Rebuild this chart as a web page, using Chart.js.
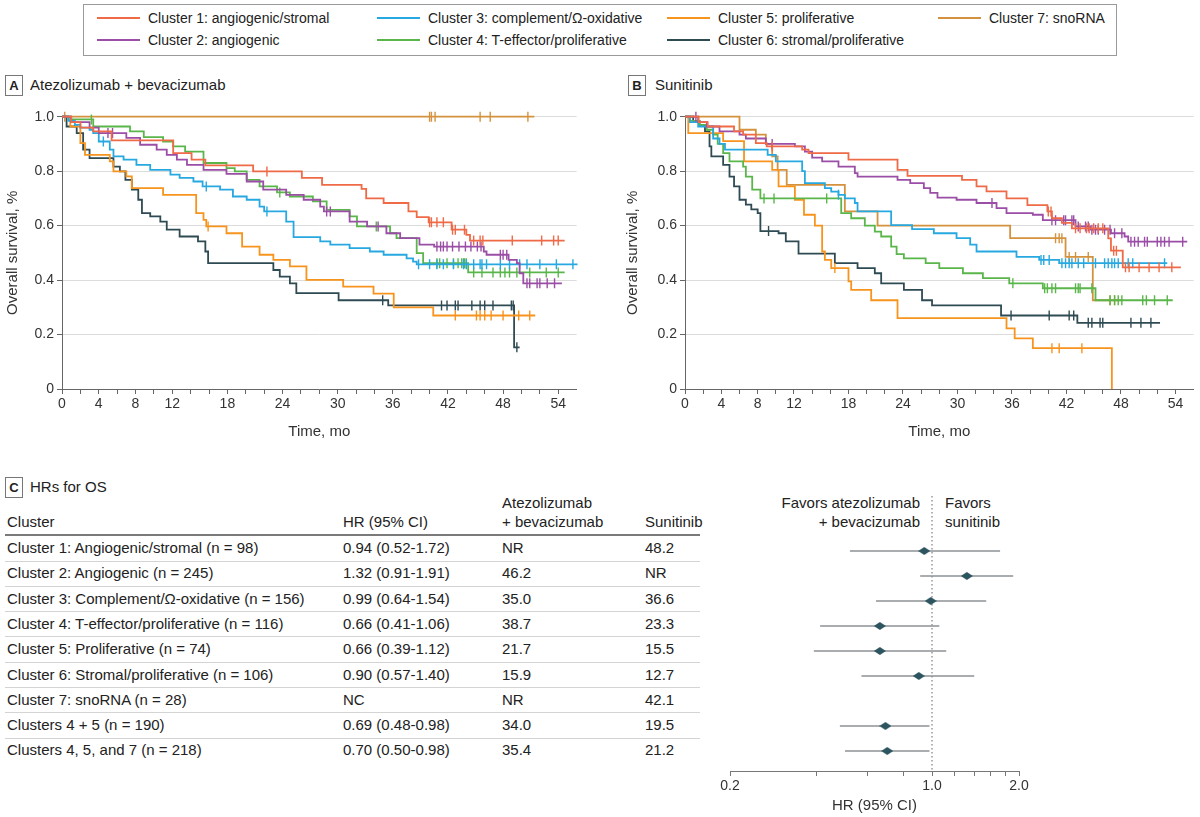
<!DOCTYPE html>
<html>
<head>
<meta charset="utf-8">
<script src="https://cdn.jsdelivr.net/npm/chart.js@4.4.1/dist/chart.umd.min.js"></script>
<style>
  body { margin: 0; width: 1200px; height: 817px; position: relative; background: #fff; overflow: hidden;
         font-family: "Liberation Sans", Arial, sans-serif; color: #222; }
  .legend { position: absolute; left: 83px; top: 4px; width: 1032px; height: 50px; border: 1px solid #9a9a9a; }
  .leg { position: absolute; font-size: 14px; line-height: 16px; white-space: nowrap; }
  .leg i { display: inline-block; width: 43px; height: 2px; vertical-align: middle; margin-right: 8px; position: relative; top: -1px; }
  .tag { position: absolute; width: 16px; height: 19px; border: 1px solid #777; font-size: 13px; font-weight: bold;
         text-align: center; line-height: 19px; }
  .ttl, .cell { position: absolute; font-size: 15px; line-height: 18px; white-space: nowrap; }
  .box { position: absolute; }
  .rule { position: absolute; left: 5px; width: 695px; height: 1px; background: #d4d4d4; }
</style>
</head>
<body>
<div class="legend" id="legend"></div>

<div class="tag" style="left:5px;top:75px">A</div>
<div class="ttl" style="left:30px;top:76px">Atezolizumab + bevacizumab</div>
<div class="tag" style="left:628px;top:75px">B</div>
<div class="ttl" style="left:655px;top:76px">Sunitinib</div>

<div class="box" style="left:0;top:95px;width:600px;height:354px"><canvas id="chartA" width="600" height="354"></canvas></div>
<div class="box" style="left:620px;top:95px;width:580px;height:354px"><canvas id="chartB" width="580" height="354"></canvas></div>

<div class="tag" style="left:5px;top:477px">C</div>
<div class="ttl" style="left:30px;top:478px">HRs for OS</div>
<div id="table"></div>

<div class="ttl" style="left:700px;top:494px;width:220px;text-align:right">Favors atezolizumab</div>
<div class="ttl" style="left:700px;top:513px;width:220px;text-align:right">+ bevacizumab</div>
<div class="ttl" style="left:945px;top:494px">Favors</div>
<div class="ttl" style="left:945px;top:513px">sunitinib</div>
<div class="box" style="left:700px;top:480px;width:360px;height:337px"><canvas id="forest" width="360" height="337"></canvas></div>

<script>
// ---- legend / clusters ----
const clusterNames = ['Cluster 1: angiogenic/stromal', 'Cluster 2: angiogenic', 'Cluster 3: complement/Ω-oxidative',
  'Cluster 4: T-effector/proliferative', 'Cluster 5: proliferative', 'Cluster 6: stromal/proliferative', 'Cluster 7: snoRNA'];
const clusterColors = ['#ef6a47', '#9a4ea6', '#27a8e0', '#5ab64b', '#f7941d', '#2e4a53', '#d4923e'];
const timeTickLabels = [0, 4, 8, 12, 18, 24, 30, 36, 42, 48, 54];

// ---- panel A: atezolizumab + bevacizumab (time, survival after step, censor times) ----
const a1T = [0, 1, 2, 3.4, 5.4, 12.1, 14.1, 15.6, 20.8, 26.1, 28.3, 32.6, 33.1, 35.0, 37.7, 38.6, 39.9, 42.4, 44.0, 44.4, 54.7];
const a1S = [1, 0.98, 0.96, 0.946, 0.913, 0.866, 0.842, 0.821, 0.799, 0.775, 0.75, 0.735, 0.70, 0.683, 0.652, 0.631, 0.612, 0.585, 0.566, 0.545, 0.545];
const a1C = [22.3, 40.0, 40.2, 40.8, 41.5, 42.5, 42.8, 43.8, 44.8, 45.5, 45.8, 49.0, 52.2, 53.5, 54.0];

const a2T = [0, 1, 3, 4, 7.0, 8.5, 10.3, 11.4, 12.5, 13.6, 15.4, 17.9, 20.1, 21.9, 24.4, 26.3, 28.1, 28.5, 31.3, 33.2, 35.3, 36.8, 38.9, 40.5, 45.9, 46.2, 48.6, 49.5, 49.8, 50.2, 54.4];
const a2S = [1, 0.98, 0.96, 0.94, 0.922, 0.897, 0.879, 0.86, 0.842, 0.823, 0.805, 0.79, 0.762, 0.732, 0.713, 0.695, 0.67, 0.652, 0.615, 0.597, 0.572, 0.554, 0.53, 0.523, 0.505, 0.493, 0.474, 0.462, 0.425, 0.388, 0.388];
const a2C = [5.0, 5.5, 28.8, 29.2, 34.4, 40.8, 41.2, 41.5, 41.9, 42.5, 43.2, 43.9, 44.5, 45.2, 45.6, 47.7, 48.0, 48.4, 50.6, 50.9, 51.7, 52.0, 52.8, 53.6];

const a3T = [0, 0.7, 1.4, 2.0, 3.0, 3.4, 4.0, 5.2, 5.6, 6.7, 8.1, 9.6, 11.8, 12.8, 14.3, 15.3, 17.2, 18.6, 20.1, 21.5, 22.0, 24.4, 25.2, 28.1, 29.2, 31.3, 33.5, 35.0, 37.5, 38.2, 38.6, 56.1];
const a3S = [1, 0.985, 0.97, 0.96, 0.952, 0.94, 0.909, 0.879, 0.854, 0.842, 0.823, 0.805, 0.787, 0.775, 0.762, 0.744, 0.732, 0.707, 0.695, 0.67, 0.652, 0.615, 0.558, 0.542, 0.53, 0.517, 0.505, 0.493, 0.48, 0.468, 0.458, 0.458];
const a3C = [4.5, 15.7, 22.3, 38.8, 40.0, 40.8, 41.5, 42.6, 43.7, 44.0, 44.8, 45.5, 45.7, 46.2, 47.7, 48.7, 49.8, 50.6, 52.0, 53.8, 55.6];

const a4T = [0, 0.9, 3.4, 7.4, 8.9, 11.0, 12.1, 13.4, 15.4, 17.9, 18.8, 20.1, 21.5, 23.4, 24.8, 27.3, 28.8, 31.3, 32.1, 35.7, 36.4, 38.6, 39.3, 44.2, 54.7];
const a4S = [1, 0.99, 0.964, 0.946, 0.925, 0.909, 0.891, 0.872, 0.83, 0.811, 0.799, 0.768, 0.744, 0.722, 0.707, 0.689, 0.658, 0.634, 0.597, 0.572, 0.554, 0.499, 0.462, 0.428, 0.428];
const a4C = [3.2, 23.7, 34.2, 40.8, 41.1, 41.9, 42.6, 43.1, 43.5, 43.7, 43.8, 44.0, 44.8, 45.7, 46.9, 47.7, 48.2, 48.7, 49.5, 50.9, 52.7, 54.0];

const a5T = [0, 0.9, 2.0, 2.5, 5.2, 5.6, 7.0, 7.6, 11.0, 14.6, 15.4, 15.7, 17.9, 19.6, 21.5, 23.0, 24.8, 26.6, 30.6, 33.9, 36.1, 40.4, 51.5];
const a5S = [1, 0.964, 0.903, 0.86, 0.836, 0.799, 0.781, 0.738, 0.713, 0.646, 0.621, 0.597, 0.572, 0.523, 0.493, 0.474, 0.45, 0.401, 0.376, 0.35, 0.30, 0.27, 0.27];
const a5C = [15.9, 42.8, 45.1, 45.5, 46.0, 46.7, 48.0, 49.7, 50.9];

const a6T = [0, 0.5, 1.6, 2.3, 3.0, 5.6, 6.3, 6.9, 7.6, 8.3, 8.7, 9.6, 10.7, 11.4, 12.8, 14.8, 15.6, 15.9, 23.0, 23.7, 24.8, 25.5, 30.1, 35.5, 49.2, 49.8];
const a6S = [1, 0.964, 0.94, 0.879, 0.848, 0.817, 0.799, 0.768, 0.732, 0.695, 0.646, 0.634, 0.615, 0.585, 0.56, 0.542, 0.505, 0.462, 0.437, 0.413, 0.388, 0.352, 0.326, 0.307, 0.153, 0.153];
const a6C = [34.9, 41.3, 41.9, 42.8, 43.1, 44.6, 45.5, 46.0, 46.9, 48.9, 49.1, 49.5];

const a7T = [0, 51.4];
const a7S = [1, 1];
const a7C = [0.3, 40.0, 40.2, 40.6, 45.5, 46.6, 50.7];

// ---- panel B: sunitinib ----
const b1T = [0, 1.5, 2.5, 5.4, 6.4, 7.8, 9.0, 12.9, 13.6, 18.0, 23.4, 24.5, 30.5, 32.1, 33.2, 35.4, 37.7, 39.9, 40.4, 41.5, 42.6, 46.6, 46.9, 48.2, 54.6];
const b1S = [1, 0.98, 0.964, 0.946, 0.934, 0.903, 0.891, 0.879, 0.866, 0.842, 0.805, 0.783, 0.768, 0.744, 0.726, 0.70, 0.675, 0.652, 0.627, 0.61, 0.59, 0.553, 0.508, 0.447, 0.447];
const b1C = [9.6, 40.0, 40.3, 43.0, 43.5, 44.2, 44.5, 45.0, 45.5, 46.0, 47.2, 47.5, 48.5, 48.9, 50.0, 51.1, 52.2, 53.6];

const b2T = [0, 1.45, 2.4, 3.8, 6.0, 6.7, 8.9, 12.1, 13.2, 14.0, 15.1, 16.9, 18.7, 19.0, 23.4, 24.8, 26.3, 27.0, 27.8, 29.9, 32.1, 34.3, 35.4, 38.3, 39.4, 43.0, 44.6, 46.9, 48.4, 48.8, 55.3];
const b2S = [1, 0.98, 0.964, 0.946, 0.934, 0.92, 0.9, 0.891, 0.872, 0.85, 0.836, 0.817, 0.793, 0.78, 0.768, 0.756, 0.738, 0.72, 0.703, 0.695, 0.683, 0.664, 0.646, 0.64, 0.62, 0.597, 0.585, 0.572, 0.56, 0.541, 0.541];
const b2C = [1.2, 9.6, 33.8, 40.4, 40.8, 41.7, 41.9, 42.6, 42.8, 43.3, 44.1, 44.4, 44.8, 45.2, 45.5, 46.2, 46.8, 47.3, 48.1, 49.1, 49.5, 49.9, 50.6, 50.9, 52.0, 52.4, 52.8, 53.3, 54.8];

const b3T = [0, 0.54, 1.45, 3.1, 3.8, 4.4, 9.1, 10.0, 12.9, 13.2, 15.4, 16.1, 16.9, 17.6, 18.7, 19.0, 22.7, 25.0, 27.4, 29.9, 31.4, 32.1, 36.5, 39.0, 41.2, 53.1];
const b3S = [1, 0.98, 0.964, 0.92, 0.90, 0.879, 0.86, 0.836, 0.80, 0.756, 0.738, 0.725, 0.713, 0.70, 0.683, 0.652, 0.602, 0.587, 0.572, 0.554, 0.53, 0.505, 0.485, 0.474, 0.462, 0.462];
const b3C = [16.9, 39.2, 39.5, 40.1, 41.5, 41.9, 42.3, 42.6, 43.3, 43.9, 45.2, 46.2, 46.6, 47.0, 47.3, 47.7, 48.8, 49.3, 52.8];

const b4T = [0, 0.54, 1.6, 2.4, 3.1, 3.6, 4.2, 4.9, 6.4, 6.7, 7.4, 8.3, 17.2, 18.3, 19.8, 20.9, 21.6, 22.7, 23.3, 24.1, 26.5, 28.0, 30.6, 32.8, 35.7, 39.4, 45.2, 53.7];
const b4S = [1, 0.985, 0.97, 0.952, 0.934, 0.90, 0.866, 0.836, 0.817, 0.78, 0.732, 0.70, 0.646, 0.627, 0.60, 0.578, 0.56, 0.523, 0.495, 0.48, 0.462, 0.444, 0.425, 0.407, 0.388, 0.37, 0.326, 0.326];
const b4C = [8.7, 9.8, 15.6, 36.1, 39.6, 39.9, 40.4, 40.8, 43.0, 43.3, 43.5, 44.8, 46.8, 47.3, 47.7, 48.1, 50.4, 50.8, 51.7, 53.1];

const b5T = [0, 0.36, 4.2, 6.5, 9.6, 10.3, 12.1, 13.1, 14.3, 15.1, 15.4, 16.1, 18.0, 18.3, 20.5, 23.4, 35.4, 36.3, 38.3, 47.0];
const b5S = [1, 0.94, 0.91, 0.836, 0.805, 0.744, 0.695, 0.64, 0.60, 0.505, 0.474, 0.444, 0.395, 0.364, 0.326, 0.26, 0.223, 0.186, 0.15, 0];
const b5C = [16.5, 40.4, 41.2, 43.7];

const b6T = [0, 0.9, 1.6, 2.2, 2.7, 2.9, 4.2, 4.9, 5.4, 6.0, 6.7, 7.3, 8.0, 8.3, 10.3, 11.1, 12.5, 16.5, 19.0, 20.9, 21.6, 24.1, 26.1, 27.2, 34.8, 43.2, 52.3];
const b6S = [1, 0.985, 0.97, 0.946, 0.891, 0.854, 0.823, 0.78, 0.744, 0.695, 0.677, 0.66, 0.646, 0.58, 0.572, 0.542, 0.497, 0.462, 0.444, 0.425, 0.388, 0.364, 0.326, 0.307, 0.27, 0.243, 0.243];
const b6C = [9.2, 35.9, 40.1, 42.3, 42.8, 44.4, 44.8, 45.7, 46.0, 49.1, 50.2, 51.3];

const b7T = [0, 6.0, 7.8, 8.9, 9.6, 10.2, 11.2, 17.6, 21.2, 35.8, 41.9, 44.9, 48.2];
const b7S = [1, 0.952, 0.934, 0.90, 0.854, 0.805, 0.75, 0.652, 0.60, 0.554, 0.485, 0.326, 0.326];
const b7C = [40.8, 41.2, 41.5, 42.3, 43.0, 44.4, 46.8, 47.3];

// ---- panel C: table + forest ----
const tableClusters = ['Cluster 1: Angiogenic/stromal (n = 98)', 'Cluster 2: Angiogenic (n = 245)',
  'Cluster 3: Complement/Ω-oxidative (n = 156)', 'Cluster 4: T-effector/proliferative (n = 116)',
  'Cluster 5: Proliferative (n = 74)', 'Cluster 6: Stromal/proliferative (n = 106)', 'Cluster 7: snoRNA (n = 28)',
  'Clusters 4 + 5 (n = 190)', 'Clusters 4, 5, and 7 (n = 218)'];
const forestHR = [0.94, 1.32, 0.99, 0.66, 0.66, 0.90, null, 0.69, 0.70];
const forestLow = [0.52, 0.91, 0.64, 0.41, 0.39, 0.57, null, 0.48, 0.50];
const forestHigh = [1.72, 1.91, 1.54, 1.06, 1.12, 1.40, null, 0.98, 0.98];
const atezoMedian = ['NR', '46.2', '35.0', '38.7', '21.7', '15.9', 'NR', '34.0', '35.4'];
const sunitMedian = ['48.2', 'NR', '36.6', '23.3', '15.5', '12.7', '42.1', '19.5', '21.2'];
const forestTicks = [0.2, 0.4, 0.6, 0.8, 1.0, 1.2, 1.4, 1.6, 1.8, 2.0];
const forestTickLabels = [0.2, 1.0, 2.0];

const FONT = '"Liberation Sans", Arial, sans-serif';
Chart.defaults.font.family = FONT;
Chart.defaults.color = '#333';

// legend
const legendSlots = [[13, 5], [13, 27], [293, 5], [293, 27], [583, 5], [583, 27], [854, 5]];
const legendEl = document.getElementById('legend');
clusterNames.forEach((name, i) => {
  const d = document.createElement('div');
  d.className = 'leg';
  d.style.left = legendSlots[i][0] + 'px';
  d.style.top = legendSlots[i][1] + 'px';
  d.innerHTML = '<i style="background:' + clusterColors[i] + '"></i>' + name;
  legendEl.appendChild(d);
});

// table
const tableEl = document.getElementById('table');
function cell(text, x, y) {
  const d = document.createElement('div');
  d.className = 'cell';
  d.style.left = x + 'px';
  d.style.top = (y - 9) + 'px';
  d.textContent = text;
  tableEl.appendChild(d);
}
cell('Cluster', 7, 522);
cell('HR (95% CI)', 343, 522);
cell('Atezolizumab', 502, 503);
cell('+ bevacizumab', 502, 522);
cell('Sunitinib', 645, 522);
const hdr = document.createElement('div');
hdr.className = 'rule';
hdr.style.top = '534px'; hdr.style.height = '2px'; hdr.style.background = '#7a7a7a';
tableEl.appendChild(hdr);
tableClusters.forEach((name, i) => {
  const y = 548 + i * 25.3;
  cell(name, 7, y);
  cell(forestHR[i] == null ? 'NC' :
    forestHR[i].toFixed(2) + ' (' + forestLow[i].toFixed(2) + '-' + forestHigh[i].toFixed(2) + ')', 343, y);
  cell(atezoMedian[i], 502, y);
  cell(sunitMedian[i], 645, y);
  if (i < tableClusters.length - 1) {
    const r = document.createElement('div');
    r.className = 'rule';
    r.style.top = Math.round(y + 12.5) + 'px';
    tableEl.appendChild(r);
  }
});

// KM helpers
function survAt(times, survs, t) {
  let s = survs[0];
  times.forEach((tt, i) => { if (tt <= t) s = survs[i]; });
  return s;
}
function kmDatasets(curves) {
  const sets = [];
  curves.forEach(([t, s, c], i) => {
    sets.push({
      type: 'line', data: t.map((x, k) => ({ x: x, y: s[k] })), stepped: 'before', clip: 6,
      borderColor: clusterColors[i], borderWidth: 1.8, pointRadius: 0, fill: false
    });
    sets.push({
      type: 'scatter', data: c.map(x => ({ x: x, y: survAt(t, s, x) })), clip: 8,
      pointStyle: 'line', rotation: 90, pointRadius: 5, borderColor: clusterColors[i],
      backgroundColor: clusterColors[i], pointBorderWidth: 1.4
    });
  });
  return sets;
}

function kmChart(id, curves, axisWidth, padRight) {
  return new Chart(document.getElementById(id), {
    type: 'line',
    data: { datasets: kmDatasets(curves) },
    options: {
      responsive: false, animation: false,
      layout: { padding: { top: 21.7, right: padRight, left: 0, bottom: 0 } },
      plugins: { legend: { display: false }, tooltip: { enabled: false } },
      scales: {
        x: {
          type: 'linear', min: 0, max: 56,
          afterBuildTicks: s => { s.ticks = s.ticks.filter(t => t.value <= 54); },
          afterFit: s => { s.height = 60; },
          ticks: { stepSize: 2, autoSkip: false, maxRotation: 0, padding: 2, font: { size: 14 },
            callback: v => timeTickLabels.includes(v) ? String(v) : '' },
          grid: { drawOnChartArea: false, tickLength: 5, tickColor: '#666' },
          border: { color: '#666' },
          title: { display: true, text: 'Time, mo', font: { size: 15 }, color: '#333', padding: { top: 0, bottom: 8 } }
        },
        y: {
          min: 0, max: 1,
          afterFit: s => { s.width = axisWidth; },
          ticks: { stepSize: 0.2, padding: 3, font: { size: 14 },
            callback: v => v === 0 ? '0' : v.toFixed(1) },
          grid: { color: '#dcdcdc', tickLength: 5, tickColor: '#666' },
          border: { color: '#666' },
          title: { display: true, text: 'Overall survival, %', font: { size: 15 }, color: '#333', padding: { top: 4, bottom: 0 } }
        }
      }
    }
  });
}

kmChart('chartA', [[a1T, a1S, a1C], [a2T, a2S, a2C], [a3T, a3S, a3C], [a4T, a4S, a4C],
  [a5T, a5S, a5C], [a6T, a6S, a6C], [a7T, a7S, a7C]], 62, 23.4);
kmChart('chartB', [[b1T, b1S, b1C], [b2T, b2S, b2C], [b3T, b3S, b3C], [b4T, b4S, b4C],
  [b5T, b5S, b5C], [b6T, b6S, b6C], [b7T, b7S, b7C]], 65, 0.4);

// forest plot
const diamond = document.createElement('canvas');
diamond.width = 12; diamond.height = 8;
const dctx = diamond.getContext('2d');
dctx.fillStyle = '#2d5560';
dctx.beginPath(); dctx.moveTo(0, 4); dctx.lineTo(6, 0); dctx.lineTo(12, 4); dctx.lineTo(6, 8); dctx.closePath(); dctx.fill();

const forestSets = [{
  type: 'scatter', order: 0,
  data: forestHR.map((hr, i) => hr == null ? null : { x: hr, y: i }).filter(Boolean),
  pointStyle: diamond, pointRadius: 5
}];
forestHR.forEach((hr, i) => {
  if (hr == null) return;
  forestSets.push({ type: 'line', order: 1, data: [{ x: forestLow[i], y: i }, { x: forestHigh[i], y: i }],
    borderColor: '#8d9294', borderWidth: 1.3, pointRadius: 0 });
});
forestSets.push({ type: 'line', order: 2, data: [{ x: 1, y: -2.2 }, { x: 1, y: 8.8 }],
  borderColor: '#666', borderWidth: 1, borderDash: [1.5, 2.5], pointRadius: 0 });

new Chart(document.getElementById('forest'), {
  type: 'scatter',
  data: { datasets: forestSets },
  options: {
    responsive: false, animation: false,
    layout: { padding: { top: 16, right: 41, left: 30, bottom: 0 } },
    plugins: { legend: { display: false }, tooltip: { enabled: false } },
    scales: {
      x: {
        type: 'logarithmic', min: 0.2, max: 2.0,
        afterBuildTicks: s => { s.ticks = forestTicks.map(v => ({ value: v })); },
        afterFit: s => { s.height = 46; },
        ticks: { autoSkip: false, maxRotation: 0, padding: 2, font: { size: 14 },
          callback: v => forestTickLabels.includes(v) ? v.toFixed(1) : '' },
        grid: { drawOnChartArea: false, tickLength: 5, tickColor: '#777' },
        border: { color: '#777' },
        title: { display: true, text: 'HR (95% CI)', font: { size: 15 }, color: '#333', padding: { top: 0, bottom: 2 } }
      },
      y: { display: false, reverse: true, min: -2.2, max: 8.8 }
    }
  }
});
</script>
</body>
</html>
